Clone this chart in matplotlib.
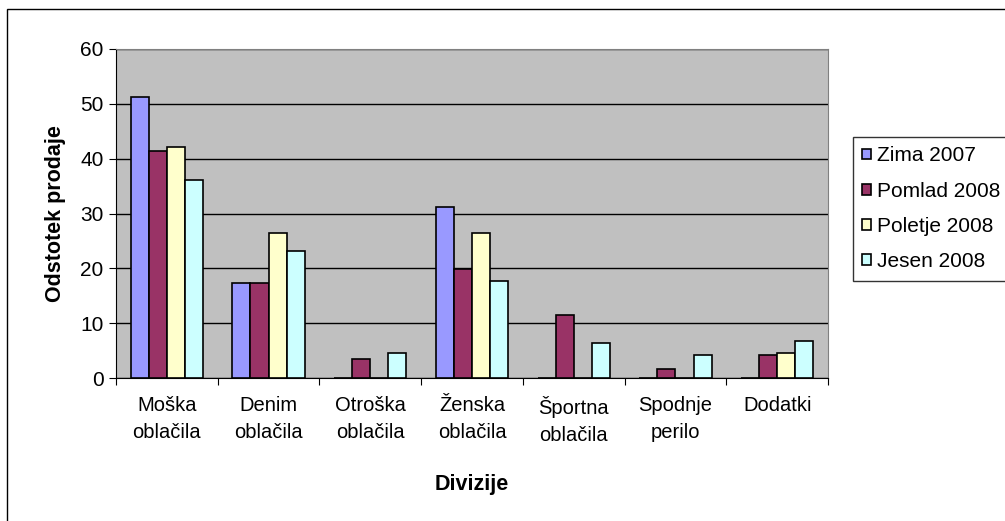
import matplotlib.pyplot as plt
import matplotlib.patches as patches
import numpy as np

plt.rcParams['font.family'] = ['Liberation Sans', 'DejaVu Sans']

categories = ['Moška\noblačila', 'Denim\noblačila', 'Otroška\noblačila', 'Ženska\noblačila',
              'Športna\noblačila', 'Spodnje\nperilo', 'Dodatki']
series = ['Zima 2007', 'Pomlad 2008', 'Poletje 2008', 'Jesen 2008']
zima = [51.2, 17.3, 0, 31.1, 0, 0, 0]
pomlad = [41.4, 17.3, 3.4, 19.9, 11.5, 1.6, 4.2]
poletje = [42.1, 26.5, 0, 26.5, 0, 0, 4.6]
jesen = [36.2, 23.2, 4.5, 17.7, 6.4, 4.2, 6.7]
colors = ['#9999FF', '#993366', '#FFFFCC', '#CCFFFF']

fig = plt.figure(figsize=(10.05, 5.21), dpi=100)
# outer chart border (runs past right and bottom edges)
fig.add_artist(patches.Rectangle((7 / 1005, -0.05), 1.05, 1.05 - 9 / 521,
                                 transform=fig.transFigure, fill=False,
                                 edgecolor='black', linewidth=1))

ax = fig.add_axes([116 / 1005, 143 / 521, 712 / 1005, 329 / 521])
ax.set_facecolor('#C0C0C0')

x = np.arange(len(categories))
w = 0.178
for i, (vals, c, name) in enumerate(zip([zima, pomlad, poletje, jesen], colors, series)):
    ax.bar(x + (i - 1.5) * w, vals, w, color=c, edgecolor='black', linewidth=1.2,
           label=name, zorder=3)

ax.set_xlim(-0.5, len(categories) - 0.5)
ax.set_ylim(0, 60)
ax.set_yticks(range(0, 61, 10))
ax.yaxis.grid(True, color='black', linewidth=1, zorder=1)
ax.set_axisbelow(True)

ax.set_xticks(np.arange(len(categories) + 1) - 0.5)
ax.set_xticklabels([])
ax.set_xticks(x, minor=True)
ax.set_xticklabels(categories, minor=True, fontsize=14.5, linespacing=1.55)
ax.tick_params(axis='x', which='minor', length=0, pad=13)
ax.tick_params(axis='x', which='major', length=5, direction='out')
ax.tick_params(axis='y', length=5, direction='out', labelsize=15, pad=4)

for s in ['top', 'right']:
    ax.spines[s].set_color('#808080')
ax.spines['left'].set_color('black')
ax.spines['bottom'].set_color('black')

ax.set_ylabel('Odstotek prodaje', fontsize=15.5, fontweight='bold', labelpad=10)
ax.set_xlabel('Divizije', fontsize=15.5, fontweight='bold', labelpad=21)

leg = ax.legend(loc='upper left', bbox_to_anchor=(853 / 1005, 384 / 521),
                bbox_transform=fig.transFigure, frameon=True, fancybox=False,
                edgecolor='black', fontsize=15, handlelength=0.42, handleheight=0.42,
                handletextpad=0.3, labelspacing=0.78, borderpad=0.45, borderaxespad=0)
leg.get_frame().set_linewidth(1)

fig.savefig('out.png', dpi=100)
